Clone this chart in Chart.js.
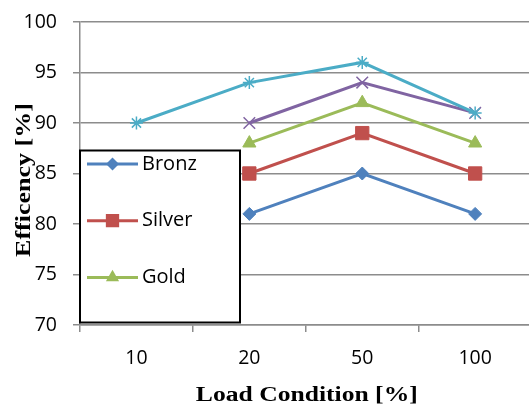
<!DOCTYPE html>
<html>
<head>
<meta charset="utf-8">
<script src="https://cdn.jsdelivr.net/npm/chart.js@4/dist/chart.umd.min.js"></script>
<style>
  html, body { margin: 0; padding: 0; background: #fff; overflow: hidden; }
  #wrap { width: 542px; height: 405px; }
  canvas { display: block; }
</style>
</head>
<body>
<div id="wrap"><canvas id="c" width="542" height="405"></canvas></div>
<script>
// Load levels (% of rated load) and efficiency per certification level
const loadLevels = ['10', '20', '50', '100'];
const bronz    = [null, 81, 85, 81];
const silver   = [null, 85, 89, 85];
const gold     = [null, 88, 92, 88];
const platinum = [null, 90, 94, 91];
const titanium = [90, 94, 96, 91];
const yTicks   = [70, 75, 80, 85, 90, 95, 100];
const seriesNames = ['Bronz', 'Silver', 'Gold', 'Platinum', 'Titanium'];

const xTitle = 'Load Condition [%]';
const yTitle = 'Efficency [%]';

const GRID = '#8c8c8c';
// small line heights keep the label overflow from pushing the plot edges inward
const Y_TICK_FONT = { family: '"Open Sans"', size: 19.5, lineHeight: 0.6 };
const X_TICK_FONT = { family: '"Open Sans"', size: 19.5, lineHeight: 2.68 };

const styles = [
  { color: '#4F81BD', pointStyle: 'rectRot',  radius: 6.5, bw: 1 },
  { color: '#C0504D', pointStyle: 'rect',     radius: 9.4, bw: 1 },
  { color: '#9BBB59', pointStyle: 'triangle', radius: 7.6, bw: 1 },
  { color: '#8064A2', pointStyle: 'crossRot', radius: 8.2, bw: 1.5 },
  { color: '#4BACC6', pointStyle: 'star',     radius: 6.5, bw: 1.5 }
];
const seriesData = [bronz, silver, gold, platinum, titanium];

const datasets = seriesData.map((d, i) => ({
  label: seriesNames[i],
  data: d,
  borderColor: styles[i].color,
  backgroundColor: styles[i].color,
  borderWidth: 3,
  pointStyle: styles[i].pointStyle,
  pointRadius: styles[i].radius,
  pointBackgroundColor: styles[i].color,
  pointBorderColor: styles[i].color,
  pointBorderWidth: styles[i].bw,
  tension: 0,
  // later series sit on top
  order: seriesData.length - i
}));

// Small marker painter used by the boxed legend
function paintMarker(ctx, style, x, y) {
  const r = style.radius;
  ctx.save();
  ctx.fillStyle = style.color;
  ctx.strokeStyle = style.color;
  ctx.lineWidth = style.bw;
  ctx.beginPath();
  switch (style.pointStyle) {
    case 'rectRot':
      ctx.moveTo(x, y - r); ctx.lineTo(x + r, y); ctx.lineTo(x, y + r); ctx.lineTo(x - r, y);
      ctx.closePath(); ctx.fill(); break;
    case 'rect': {
      const s = r * Math.SQRT1_2;
      ctx.rect(x - s, y - s, 2 * s, 2 * s); ctx.fill(); break;
    }
    case 'triangle':
      ctx.moveTo(x, y - r);
      ctx.lineTo(x + r * Math.sin(Math.PI * 2 / 3), y - r * Math.cos(Math.PI * 2 / 3));
      ctx.lineTo(x - r * Math.sin(Math.PI * 2 / 3), y - r * Math.cos(Math.PI * 2 / 3));
      ctx.closePath(); ctx.fill(); break;
    case 'crossRot': {
      const s = r * Math.SQRT1_2;
      ctx.moveTo(x - s, y - s); ctx.lineTo(x + s, y + s);
      ctx.moveTo(x - s, y + s); ctx.lineTo(x + s, y - s);
      ctx.stroke(); break;
    }
    case 'star': {
      const s = r * Math.SQRT1_2;
      ctx.moveTo(x - r, y); ctx.lineTo(x + r, y);
      ctx.moveTo(x, y - r); ctx.lineTo(x, y + r);
      ctx.moveTo(x - s, y - s); ctx.lineTo(x + s, y + s);
      ctx.moveTo(x - s, y + s); ctx.lineTo(x + s, y - s);
      ctx.stroke(); break;
    }
  }
  ctx.restore();
}

// Boxed legend placed over the lower-left of the plot
const boxLegend = {
  id: 'boxLegend',
  afterDraw(chart) {
    const ctx = chart.ctx;
    const box = { x: 80, y: 150.5, w: 160, h: 172 };
    ctx.save();
    ctx.fillStyle = '#fff';
    ctx.fillRect(box.x, box.y, box.w, box.h);
    ctx.beginPath();
    ctx.rect(box.x, box.y, box.w, box.h);
    ctx.clip();
    chart.data.datasets.forEach((ds, i) => {
      const y = 164 + i * 56.7;
      const st = styles[i];
      ctx.strokeStyle = st.color;
      ctx.lineWidth = 3;
      ctx.beginPath();
      ctx.moveTo(87, y); ctx.lineTo(138, y);
      ctx.stroke();
      paintMarker(ctx, st, 112.5, y);
      ctx.fillStyle = '#000';
      ctx.font = '20px "Open Sans"';
      ctx.textAlign = 'left';
      ctx.textBaseline = 'middle';
      ctx.fillText(ds.label, 142, y);
    });
    ctx.restore();
    ctx.save();
    ctx.strokeStyle = '#000';
    ctx.lineWidth = 2;
    ctx.strokeRect(box.x, box.y, box.w, box.h);
    ctx.restore();
  }
};

// Axis titles in a wide bold serif face
const axisTitles = {
  id: 'axisTitles',
  afterDraw(chart) {
    const ctx = chart.ctx;
    const a = chart.chartArea;
    ctx.save();
    ctx.font = 'bold 20px "Liberation Serif"';
    ctx.fillStyle = '#000';
    ctx.textAlign = 'center';
    ctx.textBaseline = 'alphabetic';
    ctx.translate((a.left + a.right) / 2 + 1, 401);
    ctx.scale(1.28, 1);
    ctx.fillText(xTitle, 0, 0);
    ctx.restore();

    ctx.save();
    ctx.font = 'bold 20px "Liberation Serif"';
    ctx.fillStyle = '#000';
    ctx.textAlign = 'center';
    ctx.textBaseline = 'alphabetic';
    ctx.translate(30, 180);
    ctx.rotate(-Math.PI / 2);
    ctx.scale(1.3, 1);
    ctx.fillText(yTitle, 0, 0);
    ctx.restore();
  }
};

new Chart(document.getElementById('c'), {
  type: 'line',
  data: { labels: loadLevels, datasets },
  options: {
    responsive: false,
    animation: false,
    events: [],
    layout: { padding: { top: 22, right: 3, left: 0, bottom: 0 } },
    plugins: { legend: { display: false }, tooltip: { enabled: false } },
    scales: {
      x: {
        type: 'category',
        offset: true,
        grid: { display: true, drawOnChartArea: false, drawTicks: true, tickLength: 7, color: GRID, lineWidth: 1.5, offset: true },
        border: { display: true, color: GRID, width: 1.5 },
        ticks: { color: '#000', font: X_TICK_FONT, padding: 0, maxRotation: 0 },
        afterFit(scale) { scale.height = 80; }
      },
      y: {
        min: 70,
        max: 100,
        grid: { color: GRID, lineWidth: 1.5, drawTicks: true, tickLength: 7 },
        border: { display: true, color: GRID, width: 1.5 },
        ticks: { color: '#000', font: Y_TICK_FONT, padding: 16, stepSize: 5 },
        afterBuildTicks(scale) { scale.ticks = yTicks.map(v => ({ value: v })); },
        afterFit(scale) { scale.width = 80; }
      }
    }
  },
  plugins: [boxLegend, axisTitles]
});
</script>
</body>
</html>
